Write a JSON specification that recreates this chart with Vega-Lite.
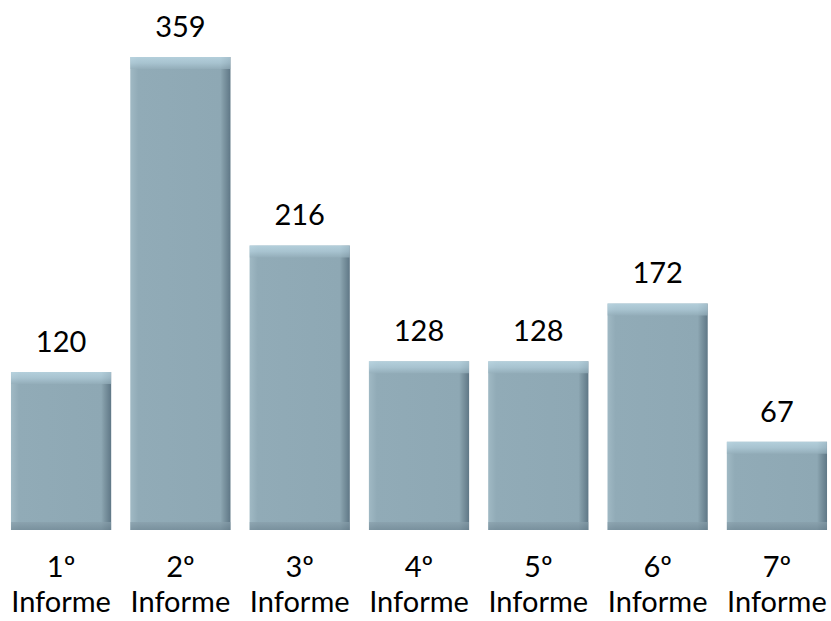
{
  "$schema": "https://vega.github.io/schema/vega-lite/v6.json",
  "width": 828,
  "height": 473,
  "autosize": {"type": "none"},
  "padding": {"left": 5, "right": 0, "top": 57, "bottom": 91},
  "background": "white",
  "config": {"view": {"stroke": null}},
  "data": {
    "values": [
      {"informe": "1º Informe", "valor": 120},
      {"informe": "2º Informe", "valor": 359},
      {"informe": "3º Informe", "valor": 216},
      {"informe": "4º Informe", "valor": 128},
      {"informe": "5º Informe", "valor": 128},
      {"informe": "6º Informe", "valor": 172},
      {"informe": "7º Informe", "valor": 67}
    ]
  },
  "encoding": {
    "x": {
      "field": "informe",
      "type": "nominal",
      "sort": null,
      "scale": {"paddingInner": 0.16, "paddingOuter": 0.05},
      "axis": {
        "title": null,
        "labelAngle": 0,
        "labelExpr": "split(datum.label, ' ')",
        "labelFont": "Lato",
        "labelFontSize": 29,
        "labelColor": "#000000",
        "labelLineHeight": 35,
        "labelPadding": 23,
        "ticks": false,
        "domain": false,
        "grid": false
      }
    }
  },
  "layer": [
    {
      "mark": {
        "type": "bar",
        "color": {
          "gradient": "linear",
          "x1": 0, "x2": 1, "y1": 0, "y2": 0,
          "stops": [
            {"offset": 0, "color": "#a0b9c4"},
            {"offset": 0.08, "color": "#91abb7"},
            {"offset": 0.9, "color": "#8ea8b4"},
            {"offset": 0.93, "color": "#7f98a4"},
            {"offset": 1, "color": "#5f7786"}
          ]
        }
      },
      "encoding": {
        "y": {"field": "valor", "type": "quantitative", "scale": {"domain": [0, 359], "nice": false, "zero": true}, "axis": null}
      }
    },
    {
      "mark": {
        "type": "tick",
        "thickness": 12,
        "size": 100,
        "yOffset": 6,
        "color": {
          "gradient": "linear",
          "x1": 0, "x2": 0, "y1": 0, "y2": 1,
          "stops": [
            {"offset": 0, "color": "#c3dfeb"},
            {"offset": 0.5, "color": "#b2cedb"},
            {"offset": 1, "color": "#95afbb"}
          ]
        }
      },
      "encoding": {
        "y": {"field": "valor", "type": "quantitative"}
      }
    },
    {
      "mark": {
        "type": "tick",
        "thickness": 8,
        "size": 100,
        "yOffset": -4,
        "color": {
          "gradient": "linear",
          "x1": 0, "x2": 0, "y1": 0, "y2": 1,
          "stops": [
            {"offset": 0, "color": "#889fab"},
            {"offset": 1, "color": "#6f8693"}
          ]
        }
      },
      "encoding": {
        "y": {"datum": 0, "type": "quantitative"}
      }
    },
    {
      "mark": {"type": "text", "font": "Lato", "fontSize": 29, "color": "#000000", "baseline": "alphabetic", "dy": -20},
      "encoding": {
        "y": {"field": "valor", "type": "quantitative"},
        "text": {"field": "valor", "type": "quantitative"}
      }
    }
  ]
}
